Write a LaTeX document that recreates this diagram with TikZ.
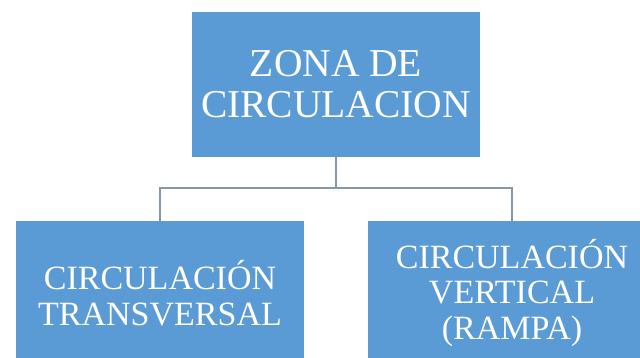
\documentclass[tikz,border=0pt]{standalone}
\usepackage{fontspec}
\setmainfont{Liberation Serif}
\usepackage{tikz}
\usetikzlibrary{positioning}
\definecolor{boxblue}{HTML}{5B9BD5}
\definecolor{linkgray}{HTML}{8597AA}

\begin{document}
\begin{tikzpicture}[x=1pt, y=1pt,
  box/.style={fill=boxblue, draw=none, minimum width=288pt, minimum height=144pt, text=white, align=center, inner sep=0pt},
  bigtext/.style={font=\fontsize{39.5}{41}\selectfont},
  smalltext/.style={font=\fontsize{34}{35.5}\selectfont},
  link/.style={draw=linkgray, line width=1.5pt}]
  \useasboundingbox (0,0) rectangle (640,357);
  \clip (0,0) rectangle (640,357);

  % Top box
  \node[box, bigtext] (zona) at (336,272.5) {ZONA DE\\CIRCULACION};

  % Bottom boxes
  \node[box, smalltext] (transv) at (160,64) {CIRCULACIÓN\\TRANSVERSAL};
  \node[box, smalltext] (vert) at (512,64) {CIRCULACIÓN\\VERTICAL\\(RAMPA)};

  % Connectors
  \coordinate (bus) at (336,169);
  \draw[link] (zona.south) -- (bus) -| (transv.north);
  \draw[link] (bus) -| (vert.north);
\end{tikzpicture}
\end{document}
